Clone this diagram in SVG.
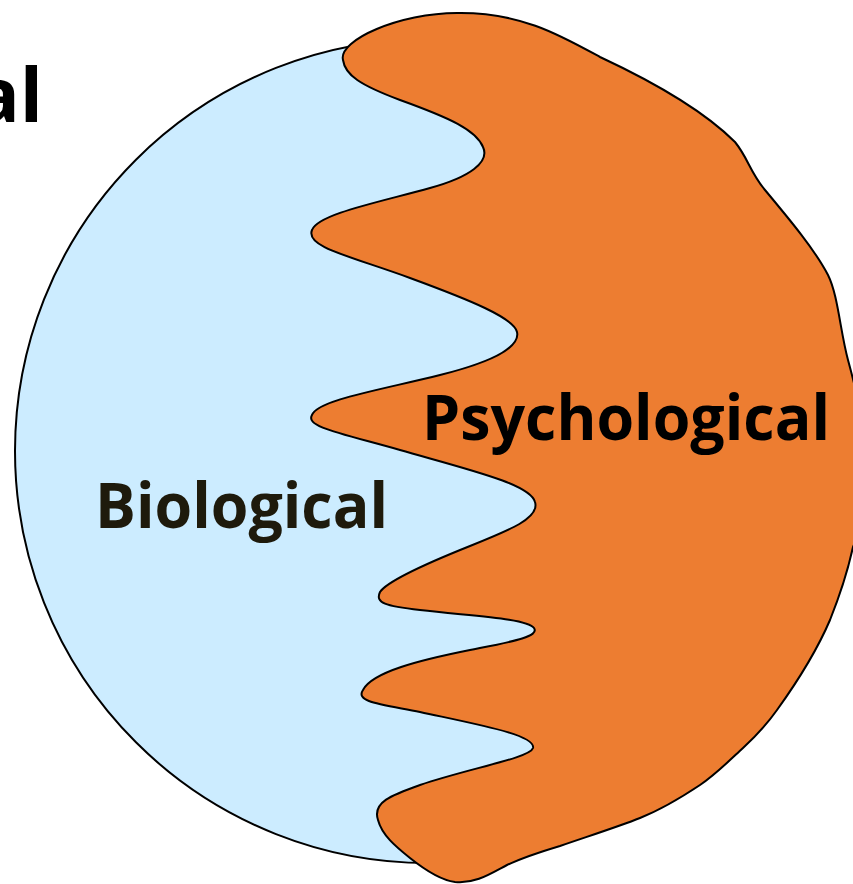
<svg xmlns="http://www.w3.org/2000/svg" width="853" height="884" viewBox="0 0 853 884">
<style>
.lbl{font-family:"Open Sans","Liberation Sans",sans-serif;font-weight:bold;}
.shape{stroke:#000;stroke-width:2;}
</style>
<rect width="853" height="884" fill="#fff"/>
<g id="biological">
<ellipse class="shape" cx="428" cy="451" rx="413" ry="412" fill="#CCECFF"/>
</g>
<g id="psychological">
<path class="shape" fill="#ED7D31" d="M343,60 C338,40 400,13 457,13 C520,12 560,35 600,57 C660,85 705,112 735,142 C748,158 750,172 765,190 C790,220 815,250 828,275 C838,295 840,330 848,360 C870,440 875,500 853,547 C848,570 840,595 830,620 C815,655 795,685 777,710 C765,727 755,737 743,748 C730,760 715,775 700,785 C685,795 665,808 640,818 C620,826 595,834 560,846 C540,852 522,858 507,865 C490,874 475,884 455,882 C440,880 425,870 410,858 C395,846 382,835 378,820 C372,802 392,795 420,785 C470,768 530,758 533,748 C536,735 480,725 420,712 C380,704 355,702 363,690 C372,672 420,660 470,650 C510,642 540,637 534,628 C527,618 470,616 420,610 C385,606 375,603 380,592 C388,580 430,562 470,546 C510,530 540,518 535,502 C530,484 470,470 400,450 C340,433 305,427 312,415 C318,400 380,390 440,375 C500,360 520,345 517,332 C514,318 470,300 410,278 C350,256 305,247 312,230 C318,214 380,202 430,188 C470,177 490,162 483,147 C476,130 450,118 400,100 C360,85 345,75 343,60 Z"/>
</g>
<g id="labels">
<text class="lbl" x="422" y="440" font-size="62" fill="#000" textLength="408" lengthAdjust="spacingAndGlyphs">Psychological</text>
<text class="lbl" x="95" y="528" font-size="62" fill="#1E1A0C" textLength="293" lengthAdjust="spacingAndGlyphs">Biological</text>
<text class="lbl" x="43" y="122" font-size="76" fill="#000" text-anchor="end">al</text>
</g>
</svg>
